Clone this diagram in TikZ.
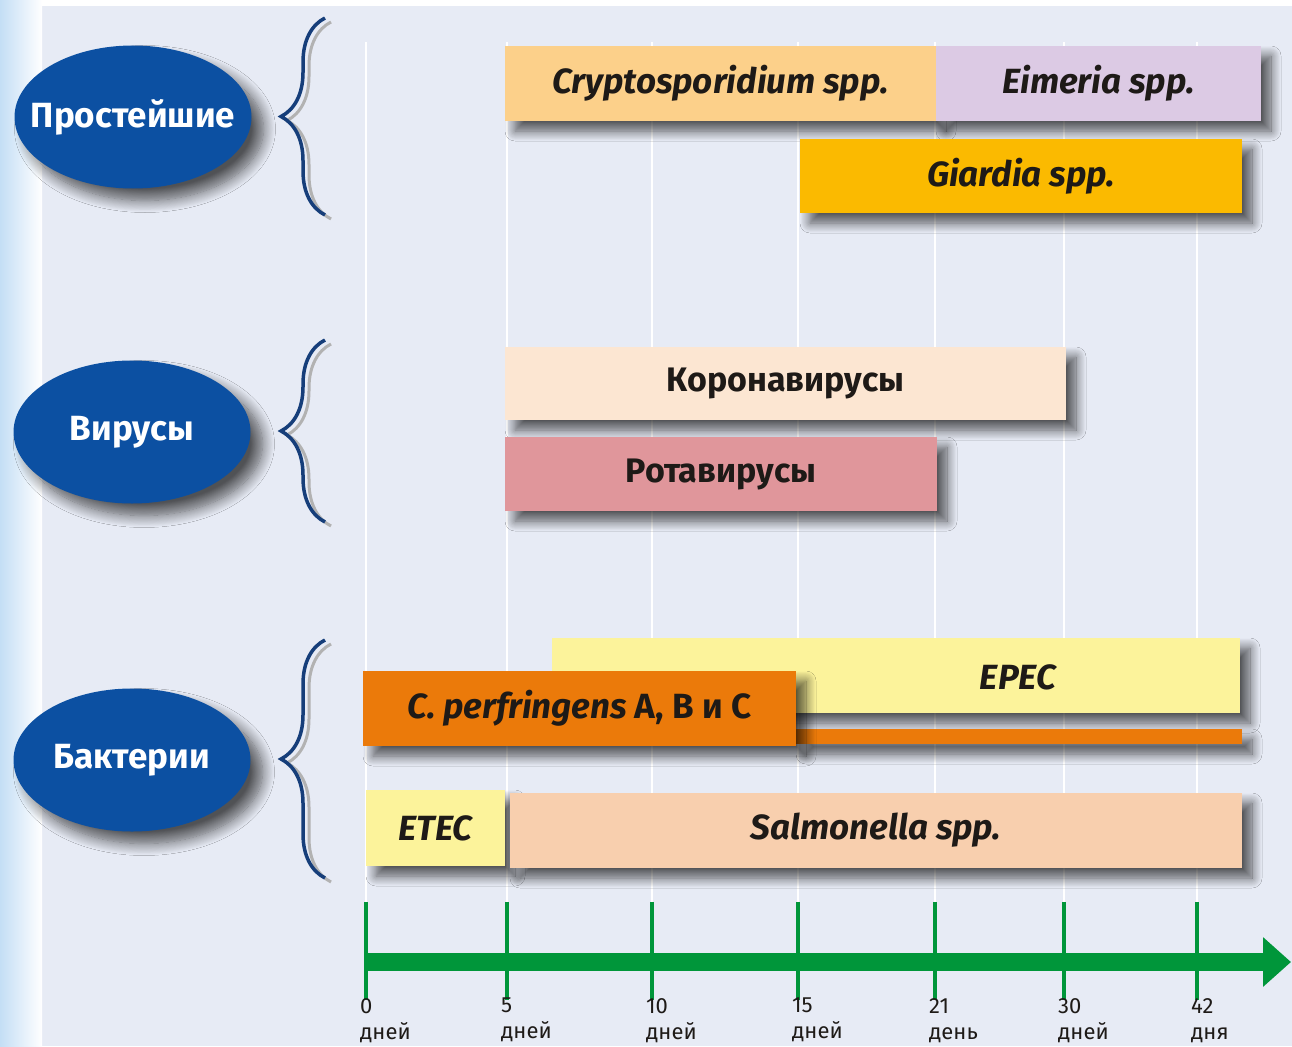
\documentclass[tikz,border=0pt]{standalone}
\usepackage{fontspec}
\setmainfont{Fira Sans}
\usetikzlibrary{arrows.meta,shapes.geometric,shadows.blur,decorations.pathreplacing}
\definecolor{bgblue}{RGB}{231,235,245}
\definecolor{stripblue}{RGB}{196,222,245}
\definecolor{ovalblue}{RGB}{12,80,162}
\definecolor{bracecol}{RGB}{22,62,122}
\definecolor{axisgreen}{RGB}{0,150,58}
\definecolor{cryptocol}{RGB}{252,208,138}
\definecolor{eimeriacol}{RGB}{220,202,228}
\definecolor{giardiacol}{RGB}{251,186,0}
\definecolor{coronacol}{RGB}{252,230,210}
\definecolor{rotacol}{RGB}{224,150,155}
\definecolor{epeccol}{RGB}{252,243,155}
\definecolor{perfcol}{RGB}{235,122,10}
\definecolor{salmcol}{RGB}{248,207,174}
\definecolor{inkcol}{RGB}{30,26,23}

\begin{document}
\begin{tikzpicture}[x=1pt,y=-1pt,
    oval/.style={ellipse,fill=ovalblue,inner sep=0pt,minimum width=237pt,minimum height=143pt,
      blur shadow={shadow xshift=12pt,shadow yshift=-12pt,shadow opacity=65,shadow blur radius=12pt,shadow blur steps=14}},
    ovaltext/.style={text=white,font=\fontsize{35}{38}\selectfont\bfseries},
    bar/.style={rectangle,inner sep=0pt,minimum height=75pt,text=inkcol,
      font=\fontsize{35}{38}\selectfont\bfseries\itshape,
      blur shadow={shadow xshift=10pt,shadow yshift=-10pt,shadow opacity=65,shadow blur radius=10pt,shadow blur steps=14}},
    curly/.style={decorate,decoration={brace,amplitude=44pt},draw=bracecol,line width=3.5pt},
    curlyshade/.style={curly,draw=black!30,line width=3pt},
    gridline/.style={white,line width=2.2pt},
    daytick/.style={axisgreen,line width=4pt},
    daylabel/.style={anchor=north west,align=left,inner sep=0pt,text=inkcol,
      font=\fontsize{22}{26}\selectfont}]
  \useasboundingbox (0,0) rectangle (1292,1046);
  \fill[bgblue] (0,0) rectangle (1292,1046);
  \fill[white] (0,0) rectangle (1292,6);
  \shade[left color=stripblue,right color=white] (0,0) rectangle (42,1046);

  \foreach \x in {366,507,652,798,935,1064,1197}
    \draw[gridline] (\x,42) -- (\x,905);

  \node[oval,label={[ovaltext]center:Простейшие}] (proto) at (133,117) {};
  \node[oval,label={[ovaltext]center:Вирусы}] (viri) at (132,432) {};
  \node[oval,label={[ovaltext]center:Бактерии}] (bact) at (132,760) {};

  \draw[curlyshade] (331,219) -- (331,22);
  \draw[curly] (325,215) -- (325,18);
  \draw[curlyshade] (331,526) -- (331,344);
  \draw[curly] (325,522) -- (325,340);
  \draw[curlyshade] (331,882) -- (331,644);
  \draw[curly] (325,878) -- (325,640);

  \node[bar,fill=cryptocol,minimum width=431pt] (crypto) at (720.5,83.5) {Cryptosporidium spp.};
  \node[bar,fill=eimeriacol,minimum width=325pt] (eimeria) at (1098.5,83.5) {Eimeria spp.};
  \node[bar,fill=giardiacol,minimum width=442pt,minimum height=74pt] (giardia) at (1021,176) {Giardia spp.};

  \node[bar,fill=coronacol,minimum width=561pt,minimum height=73pt,font=\fontsize{34}{38}\selectfont\bfseries] (corona) at (785.5,383.5) {Коронавирусы};
  \node[bar,fill=rotacol,minimum width=432pt,minimum height=74pt,font=\fontsize{34}{38}\selectfont\bfseries] (rota) at (721,474) {Ротавирусы};

  \node[bar,fill=epeccol,minimum width=688pt] (epec) at (896,675.5) {};
  \node[text=inkcol,font=\fontsize{35}{38}\selectfont\bfseries\itshape] (epectext) at (1018,677) {EPEC};
  \node[bar,fill=perfcol,minimum width=446pt,minimum height=15pt] (perftail) at (1019,736.5) {};
  \node[bar,fill=perfcol,minimum width=433pt] (perf) at (579.5,708.5) {C. perfringens \textup{A, B и C}};
  \node[bar,fill=epeccol,minimum width=139pt,minimum height=76pt] (etec) at (435.5,828) {ETEC};
  \node[bar,fill=salmcol,minimum width=732pt] (salm) at (876,830.5) {Salmonella spp.};

  \coordinate (axisstart) at (366,962);
  \coordinate (axisend) at (1291,962);
  \draw[axisgreen,line width=18pt,-{Triangle[length=28pt,width=48pt]}] (axisstart) -- (axisend);
  \foreach \x/\d/\w in {366/0/дней,507/5/дней,652/10/дней,798/15/дней,935/21/день,1064/30/дней,1197/42/дня}{
    \draw[daytick] (\x,902) -- (\x,1000);
    \node[daylabel] (day\d) at (\x-6,998) {\d\\\w};
  }
\end{tikzpicture}
\end{document}
